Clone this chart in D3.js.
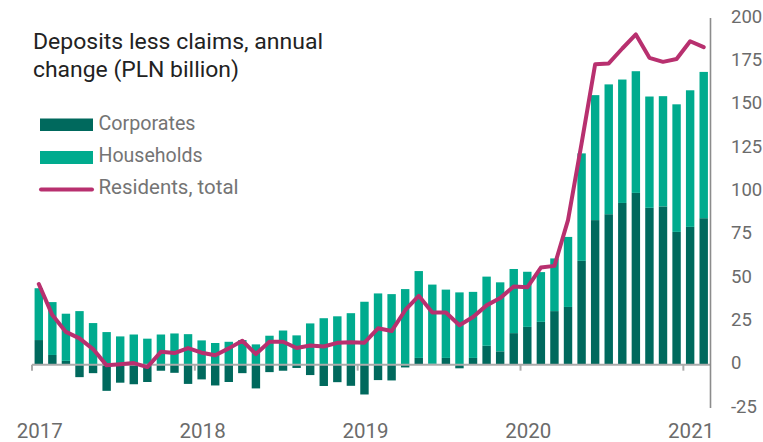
<!DOCTYPE html>
<html>
<head>
<meta charset="utf-8">
<script src="https://cdn.jsdelivr.net/npm/d3@7"></script>
<style>
  html, body { margin: 0; padding: 0; background: #fff; }
  svg { display: block; }
</style>
</head>
<body>
<svg id="chart" width="763" height="442"></svg>
<script>
const months = [];
for (let y = 2017; y <= 2021; y++) {
  for (let m = 1; m <= 12; m++) {
    if (y === 2021 && m > 2) break;
    months.push(y + "-" + String(m).padStart(2, "0"));
  }
}
const yearLabels = ["2017", "2018", "2019", "2020", "2021"];
const yTicks = [-25, 0, 25, 50, 75, 100, 125, 150, 175, 200];

const corporates = [
  14.2, 5.6, 2.2, -7.2, -4.9, -15.1, -10.4, -11.3, -10.0, -3.5, -4.7, -11.1,
  -8.5, -12.0, -10.0, -4.9, -13.7, -4.3, -3.5, -1.9, -6.0, -12.3, -10.1, -12.2,
  -17.2, -8.9, -9.1, -1.6, 3.9, 0.5, 3.9, -2.1, 3.9, 10.9, 7.7, 18.2,
  21.8, 24.7, 30.9, 33.3, 59.9, 83.4, 86.8, 93.3, 99.1, 90.5, 91.3, 76.6,
  79.5, 84.5
];
const households = [
  29.9, 30.5, 27.2, 30.9, 24.0, 18.8, 16.3, 17.4, 15.0, 17.4, 18.0, 17.6,
  14.0, 12.5, 13.2, 14.2, 11.7, 16.7, 19.7, 16.9, 23.8, 26.8, 27.9, 29.7,
  36.3, 41.1, 40.7, 43.6, 50.1, 45.7, 39.4, 41.7, 38.1, 39.9, 39.8, 37.0,
  31.8, 28.7, 30.4, 40.4, 62.0, 72.1, 74.9, 71.2, 70.2, 64.2, 63.6, 73.6,
  78.8, 84.4
];
const residentsTotal = [
  46.5, 28.6, 18.9, 15.2, 9.0, -0.4, 0.2, 0.9, -1.4, 7.4, 6.7, 9.6,
  6.9, 5.4, 9.4, 13.8, 6.1, 13.2, 13.2, 9.6, 11.1, 10.5, 12.6, 13.0,
  12.7, 21.0, 19.4, 31.4, 39.7, 30.1, 30.1, 22.7, 27.5, 34.2, 38.4, 45.1,
  44.6, 56.0, 57.0, 83.4, 127.7, 173.3, 173.8, 182.4, 190.5, 177.0, 174.7, 176.3,
  186.6, 183.2
];

const seriesNames = ["Corporates", "Households", "Residents, total"];
const colors = { corp: "#00695D", hh: "#00AB8E", total: "#B8306F" };

const svg = d3.select("#chart");

const x = d3.scaleBand()
  .domain(months)
  .range([32, 710.5])
  .paddingInner(0.38)
  .paddingOuter(0.19);

const y = d3.scaleLinear().domain([-25, 200]).range([408, 18]);

const step = x.step();
const gap = step * 0.38 / 2;

// Bars: corporates
svg.append("g").selectAll("rect")
  .data(months)
  .join("rect")
  .attr("x", d => x(d))
  .attr("width", x.bandwidth())
  .attr("y", (d, i) => y(Math.max(0, corporates[i])))
  .attr("height", (d, i) => Math.abs(y(corporates[i]) - y(0)))
  .attr("fill", colors.corp);

// Bars: households stacked
svg.append("g").selectAll("rect")
  .data(months)
  .join("rect")
  .attr("x", d => x(d))
  .attr("width", x.bandwidth())
  .attr("y", (d, i) => y(Math.max(0, corporates[i]) + households[i]))
  .attr("height", (d, i) => y(Math.max(0, corporates[i])) - y(Math.max(0, corporates[i]) + households[i]))
  .attr("fill", colors.hh);

// Zero axis line
const xAxisG = svg.append("g").attr("transform", `translate(0,${y(0)})`);
xAxisG.append("line")
  .attr("x1", 32).attr("x2", 710.5)
  .attr("y1", 0).attr("y2", 0)
  .attr("stroke", "#ababab").attr("stroke-width", 2);
const janMonths = months.filter(m => m.endsWith("-01"));
xAxisG.selectAll("line.tick")
  .data(janMonths)
  .join("line")
  .attr("class", "tick")
  .attr("x1", d => x(d) - gap).attr("x2", d => x(d) - gap)
  .attr("y1", 0).attr("y2", 6)
  .attr("stroke", "#ababab").attr("stroke-width", 2);

// Year labels
svg.append("g").selectAll("text")
  .data(janMonths)
  .join("text")
  .attr("x", d => x(d) + x.bandwidth() / 2 + 1)
  .attr("y", 437.5)
  .attr("text-anchor", "middle")
  .attr("font-family", "Roboto, 'Open Sans', sans-serif")
  .attr("font-size", 20.5)
  .attr("fill", "#6b6b6b")
  .text((d, i) => yearLabels[i]);

// Residents total line
const line = d3.line()
  .x((d, i) => x(months[i]) + x.bandwidth() / 2)
  .y(d => y(d));
svg.append("path")
  .datum(residentsTotal)
  .attr("d", line)
  .attr("fill", "none")
  .attr("stroke", colors.total)
  .attr("stroke-width", 4)
  .attr("stroke-linejoin", "round")
  .attr("stroke-linecap", "round");

// Right y axis
svg.append("line")
  .attr("x1", 710.5).attr("x2", 710.5)
  .attr("y1", y(200)).attr("y2", y(-25))
  .attr("stroke", "#8c8c8c").attr("stroke-width", 1.6);

svg.append("g").selectAll("text")
  .data(yTicks)
  .join("text")
  .attr("x", 731)
  .attr("y", d => y(d) - 1.5)
  .attr("dominant-baseline", "central")
  .attr("font-family", "Roboto, 'Open Sans', sans-serif")
  .attr("font-size", 18.5)
  .attr("fill", "#6b6b6b")
  .text(d => d);

// Title
const title = svg.append("g")
  .attr("font-family", "Roboto, 'Open Sans', sans-serif")
  .attr("font-size", 22.5)
  .attr("fill", "#222");
title.append("text").attr("x", 33).attr("y", 48.5)
  .attr("textLength", 290).attr("lengthAdjust", "spacingAndGlyphs")
  .text("Deposits less claims, annual");
title.append("text").attr("x", 33).attr("y", 77)
  .attr("textLength", 206).attr("lengthAdjust", "spacingAndGlyphs")
  .text("change (PLN billion)");

// Legend
const legend = svg.append("g")
  .attr("font-family", "Roboto, 'Open Sans', sans-serif")
  .attr("font-size", 20)
  .attr("fill", "#747474");
legend.append("rect").attr("x", 40).attr("y", 118.5).attr("width", 53).attr("height", 12.5).attr("fill", colors.corp);
legend.append("rect").attr("x", 40).attr("y", 151).attr("width", 53).attr("height", 13).attr("fill", colors.hh);
legend.append("line").attr("x1", 41).attr("x2", 92).attr("y1", 189.5).attr("y2", 189.5)
  .attr("stroke", colors.total).attr("stroke-width", 4).attr("stroke-linecap", "round");
const legendLens = [97, 104, 140];
const legendY = [129.5, 161.5, 193.5];
seriesNames.forEach((n, i) => {
  legend.append("text").attr("x", 98.5).attr("y", legendY[i])
    .attr("textLength", legendLens[i]).attr("lengthAdjust", "spacingAndGlyphs")
    .text(n);
});
</script>
</body>
</html>
